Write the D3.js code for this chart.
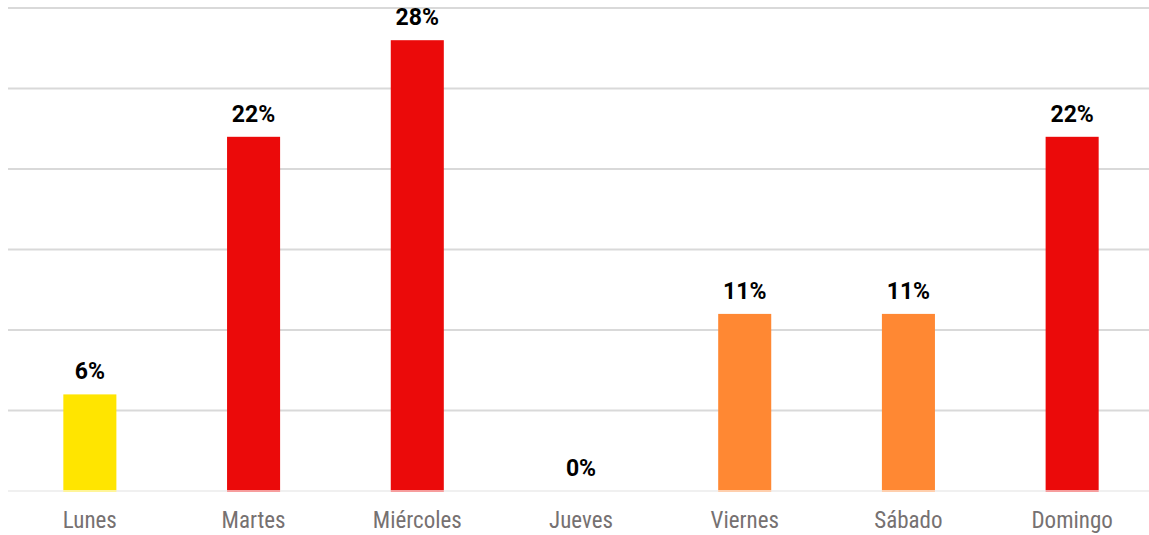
<!DOCTYPE html>
<html><head><meta charset="utf-8">
<script src="https://cdn.jsdelivr.net/npm/d3@7"></script>
<style>
html,body{margin:0;padding:0;background:#fff;}
svg{display:block;}
</style></head>
<body>
<svg id="chart" width="1149" height="535"></svg>
<script>
const categories = ["Lunes","Martes","Miércoles","Jueves","Viernes","Sábado","Domingo"];
const values = [6, 22, 28, 0, 11, 11, 22];
const barColors = ["#FFE500","#EB0A0A","#EB0A0A","#EB0A0A","#FF8833","#FF8833","#EB0A0A"];
const yTicks = [0,5,10,15,20,25,30];

const svg = d3.select("#chart");
const font = "'Liberation Sans Narrow','Roboto Condensed','Arial Narrow',Roboto,sans-serif";
const x = d3.scaleBand().domain(categories).range([8, 1154]).paddingInner(0.676).paddingOuter(0.338);
const y = d3.scaleLinear().domain([0,30]).range([491, 8]);

// gridlines
svg.append("g").selectAll("line").data(yTicks).join("line")
  .attr("x1", 8).attr("x2", 1149)
  .attr("y1", d => y(d)).attr("y2", d => y(d))
  .attr("stroke", "#d9d9d9").attr("stroke-width", 2);

// bars
svg.append("g").selectAll("rect").data(values).join("rect")
  .attr("x", (d,i) => x(categories[i]))
  .attr("width", x.bandwidth())
  .attr("y", d => y(d))
  .attr("height", d => d > 0 ? y(0) - y(d) + 1 : 0)
  .attr("fill", (d,i) => barColors[i]);

// baseline overlay
svg.append("line").attr("x1",8).attr("x2",1149).attr("y1",y(0)).attr("y2",y(0))
  .attr("stroke","#ffffff").attr("stroke-opacity",0.6).attr("stroke-width",2);

// value labels
svg.append("g").selectAll("text").data(values).join("text")
  .attr("x", (d,i) => x(categories[i]) + x.bandwidth()/2)
  .attr("y", d => y(d) - 15)
  .attr("text-anchor", "middle")
  .attr("font-family", "Roboto, 'Liberation Sans', sans-serif").attr("font-weight", "bold").attr("font-size", 23)
  .attr("fill", "#000")
  .text(d => d + "%");

// x axis labels
const xAxis = d3.axisBottom(x).tickSize(0).tickPadding(0);
const gx = svg.append("g").attr("transform", "translate(0,491)").call(xAxis);
gx.select(".domain").remove();
gx.selectAll("text").attr("y", 37).attr("dy", 0)
  .attr("font-family", font).attr("font-size", 23).attr("fill", "#767171");
</script>
</body></html>
